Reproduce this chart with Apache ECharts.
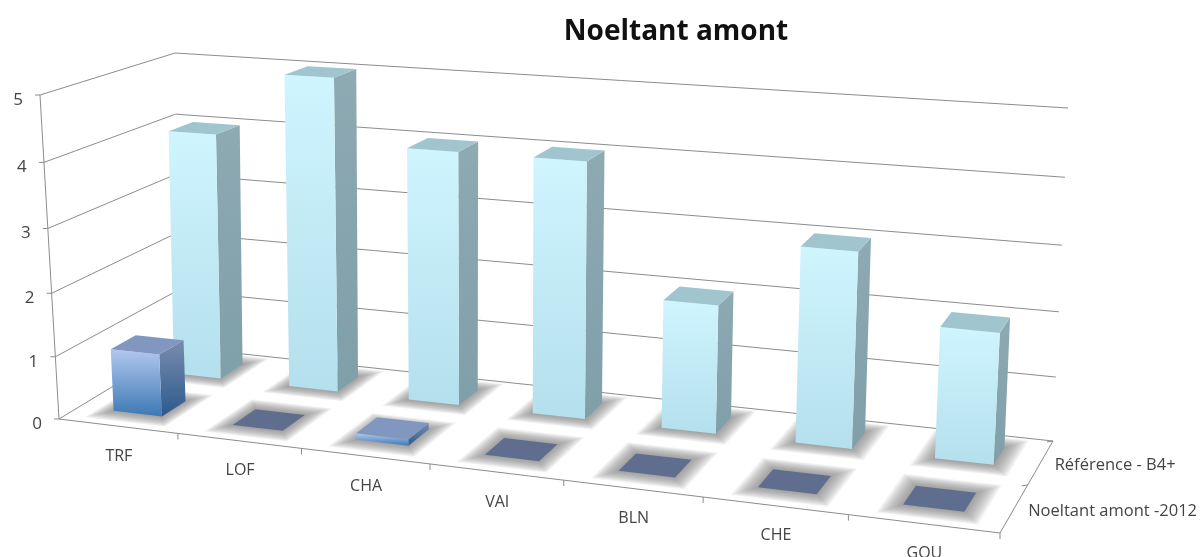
<!DOCTYPE html>
<html>
<head>
<meta charset="utf-8">
<style>html,body{margin:0;padding:0;background:#fff}#chart{width:1200px;height:557px}</style>
<script src="https://cdn.jsdelivr.net/npm/echarts@6/dist/echarts.min.js"></script>
</head>
<body>
<div id="chart"></div>
<script>
const categories = ["TRF", "LOF", "CHA", "VAI", "BLN", "CHE", "GOU"];
const reference = [4, 5, 4, 4, 2, 3, 2];
const noeltant = [1, 0, 0.1, 0, 0, 0, 0];
const depthLabels = ["Noeltant amont -2012", "Référence - B4+"];
const yTicks = [0, 1, 2, 3, 4, 5];

// hidden grid: the library's scales feed the 3d warp below
const G = { left: 100, top: 100, width: 700, height: 350 };

// box corners on screen, order: front-left, front-right, back-right, back-left
const floorCorners = [[59, 419], [1000, 533], [1053, 441], [178, 347]];
const topCorners = [[40, 95], [1022, 164], [1068, 108], [175, 53]];
// same top face, front-right corner set lower for the bar heights
const topCornersY = [[40, 95], [1022, 177], [1068, 108], [175, 53]];

function squareToQuad(q) {
  const [x0, y0] = q[0], [x1, y1] = q[1], [x2, y2] = q[2], [x3, y3] = q[3];
  const sx = x0 - x1 + x2 - x3, sy = y0 - y1 + y2 - y3;
  const dx1 = x1 - x2, dx2 = x3 - x2, dy1 = y1 - y2, dy2 = y3 - y2;
  const den = dx1 * dy2 - dx2 * dy1;
  const g = (sx * dy2 - dx2 * sy) / den, h = (dx1 * sy - sx * dy1) / den;
  return (u, d) => {
    const w = g * u + h * d + 1;
    return [
      (x1 - x0 + g * x1) * u + (x3 - x0 + h * x3) * d + x0,
      (y1 - y0 + g * y1) * u + (y3 - y0 + h * y3) * d + y0
    ].map(v => v / w);
  };
}
const floorMap = squareToQuad(floorCorners);
const topMap = squareToQuad(topCorners);
const topMapY = squareToQuad(topCornersY);

// grid pixel + depth (0 front, 1 back) -> screen pixel
function warp(p, d) {
  const u = (p[0] - G.left) / G.width;
  const v0 = (G.top + G.height - p[1]) / G.height;
  const v = v0 - 0.05 * v0 * (1 - v0); // levels spread a little towards the top
  const a = floorMap(u, d), bx = topMap(u, d)[0], by = topMapY(u, d)[1];
  return [a[0] + (bx - a[0]) * v, a[1] + (by - a[1]) * v];
}

const barFrac = 0.41;
const rows = [
  { d0: 0.16, d1: 0.36 },
  { d0: 0.67, d1: 0.87 }
];
const frontColors = {
  front: ["#b2c8ef", "#3c78b4"], side: ["#7a8cae", "#2c5a8c"], top: "#8197bf", flat: "#5f6d8e"
};
const backColors = {
  front: ["#cff5ff", "#b4dfec"], side: ["#8eaab3", "#7f9fa9"], top: "#a1c5cf", flat: "#a1c5cf"
};

function grad(c) {
  return new echarts.graphic.LinearGradient(0, 0, 0, 1, [
    { offset: 0, color: c[0] },
    { offset: 1, color: c[1] }
  ]);
}
function poly(points, fill) {
  return { type: "polygon", shape: { points: points }, style: { fill: fill } };
}

function barItem(row, colors) {
  return function (params, api) {
    const val = api.value(1);
    const c = api.coord([api.value(0), val]);
    const b = api.coord([api.value(0), 0]);
    const hw = api.size([1, 0])[0] * barFrac / 2;
    const l = c[0] - hw, r = c[0] + hw;
    const children = [];
    const topFace = [warp([l, c[1]], row.d0), warp([r, c[1]], row.d0), warp([r, c[1]], row.d1), warp([l, c[1]], row.d1)];
    if (val > 0) {
      children.push(poly([warp([r, b[1]], row.d0), warp([r, b[1]], row.d1), warp([r, c[1]], row.d1), warp([r, c[1]], row.d0)], grad(colors.side)));
      children.push(poly([warp([l, b[1]], row.d0), warp([r, b[1]], row.d0), warp([r, c[1]], row.d0), warp([l, c[1]], row.d0)], grad(colors.front)));
      children.push(poly(topFace, colors.top));
    } else {
      children.push(poly(topFace, colors.flat));
    }
    return { type: "group", children: children };
  };
}

// soft floor shadow, stacked translucent quads
function shadowItem(row) {
  return function (params, api) {
    const b = api.coord([api.value(0), 0]);
    const hw = api.size([1, 0])[0] * barFrac / 2;
    const children = [];
    for (let k = 12; k >= 1; k--) {
      const l = b[0] - hw - k * 1.1, r = b[0] + hw + k * 1.1;
      const d0 = row.d0 - k * 0.009, d1 = row.d1 + k * 0.009;
      children.push(poly(
        [warp([l, b[1]], d0), warp([r, b[1]], d0), warp([r, b[1]], d1), warp([l, b[1]], d1)],
        "rgba(110,110,110,0.08)"
      ));
    }
    return { type: "group", children: children };
  };
}

function line(a, b) {
  return {
    type: "line",
    shape: { x1: a[0], y1: a[1], x2: b[0], y2: b[1] },
    style: { stroke: "#8c8c8c", lineWidth: 1 }
  };
}
function text(str, pos, align, size) {
  return {
    type: "text",
    x: pos[0], y: pos[1],
    style: {
      text: str, align: align, verticalAlign: "middle",
      fill: "#444", fontFamily: "Open Sans", fontSize: size
    }
  };
}

// gridlines and left axis, one data item per y tick
function yAxisItem(params, api) {
  const y = api.coord([0, api.value(0)])[1];
  const f = warp([G.left, y], 0), bl = warp([G.left, y], 1), br = warp([G.left + G.width, y], 1);
  return {
    type: "group",
    children: [
      line(f, bl), line(bl, br), line([f[0] - 5, f[1]], f),
      text(String(api.value(0)), [f[0] - 22, f[1] + 5], "center", 17)
    ]
  };
}

// front edge ticks and category labels
function xAxisItem(params, api) {
  const i = api.value(0);
  const band = api.size([1, 0])[0];
  const c = api.coord([i, 0]);
  const p = warp([c[0] + band / 2, c[1]], 0);
  const m = warp(c, 0);
  return {
    type: "group",
    children: [
      line(p, [p[0], p[1] + 6]),
      text(categories[i], [m[0] + 1, m[1] + 30], "center", 16)
    ]
  };
}

function depthAxisItem(params, api) {
  const i = api.value(0);
  const x = G.left + G.width, y = G.top + G.height;
  const m = warp([x, y], (i + 0.5) / depthLabels.length);
  const t = warp([x, y], (i + 1) / depthLabels.length);
  return {
    type: "group",
    children: [
      line(t, [t[0] - 6, t[1] + 1]),
      text(depthLabels[i], [m[0] + 14, m[1] + 3], "left", 16.5)
    ]
  };
}

function edgesItem() {
  const x0 = G.left, x1 = G.left + G.width, y0 = G.top + G.height, y1 = G.top;
  return {
    type: "group",
    children: [
      line(warp([x0, y0], 0), warp([x0, y1], 0)),
      line(warp([x0, y0], 0), warp([x1, y0], 0)),
      line(warp([x1, y0], 0), warp([x1, y0], 1))
    ]
  };
}

const chart = echarts.init(document.getElementById("chart"));
const custom = (name, z, data, renderItem) => ({
  name: name, type: "custom", coordinateSystem: "cartesian2d", z: z,
  silent: true, clip: false, data: data, renderItem: renderItem
});
const pairs = arr => arr.map((v, i) => [i, v]);
const indices = arr => arr.map((_, i) => [i]);

chart.setOption({
  animation: false,
  backgroundColor: "#fff",
  title: {
    text: "Noeltant amont",
    left: 671,
    top: 13,
    textAlign: "center",
    textStyle: { fontFamily: "Open Sans", fontWeight: "bold", fontSize: 28, color: "#111" }
  },
  grid: G,
  xAxis: { type: "category", data: categories, show: false },
  yAxis: { type: "value", min: 0, max: 5, interval: 1, show: false },
  series: [
    custom("yAxis", 1, yTicks.map(v => [v]), yAxisItem),
    custom("edges", 1, [[0]], edgesItem),
    custom("xAxis", 1, indices(categories), xAxisItem),
    custom("depth", 1, indices(depthLabels), depthAxisItem),
    custom("shadowBack", 2, pairs(reference), shadowItem(rows[1])),
    custom("shadowFront", 2, pairs(noeltant), shadowItem(rows[0])),
    custom(depthLabels[1], 3, pairs(reference), barItem(rows[1], backColors)),
    custom(depthLabels[0], 4, pairs(noeltant), barItem(rows[0], frontColors))
  ]
});
</script>
</body>
</html>
